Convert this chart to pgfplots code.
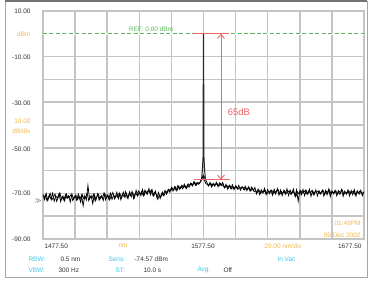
\documentclass[border=0pt]{standalone}
\usepackage{pgfplots}
\usepackage{pgfplotstable}
\pgfplotsset{compat=1.18}
\usepackage{fontspec}
\setmainfont{Liberation Sans}
\usetikzlibrary{arrows.meta}
\definecolor{org}{HTML}{F2B84B}
\definecolor{cyn}{HTML}{3CC8F0}
\definecolor{rd}{HTML}{F06464}
\definecolor{refgreen}{HTML}{5DB85D}
\definecolor{txt}{HTML}{333333}
\definecolor{grd}{HTML}{C4C4C4}
\pgfplotstableread{
y
-70.5
-72.8
-70.2
-73.1
-71.0
-72.5
-69.9
-73.4
-71.2
-72.0
-70.1
-73.6
-71.4
-72.9
-70.6
-72.2
-71.0
-73.8
-70.3
-72.4
-71.1
-73.0
-70.4
-72.6
-70.8
-75.5
-71.0
-72.9
-66.5
-72.3
-70.9
-74.5
-70.5
-72.7
-70.2
-73.0
-71.3
-72.1
-69.8
-72.8
-70.6
-72.4
-69.9
-72.6
-70.7
-71.9
-69.5
-72.3
-70.2
-72.0
-69.4
-71.8
-70.0
-72.2
-69.3
-71.5
-69.8
-71.9
-68.6
-71.2
-69.5
-71.0
-68.3
-70.8
-68.9
-70.4
-67.9
-70.6
-68.5
-71.2
-69.0
-71.8
-69.6
-72.2
-69.9
-71.0
-68.7
-70.3
-68.2
-69.5
-67.4
-69.0
-67.1
-68.8
-66.6
-68.2
-66.9
-68.0
-65.9
-67.6
-66.2
-67.3
-65.5
-66.8
-64.9
-66.5
-65.2
-66.0
-64.8
-63.5
-62.0
-63.5
-65.0
-66.8
-65.3
-67.2
-65.6
-66.9
-65.1
-67.0
-65.4
-66.6
-65.2
-67.6
-66.0
-68.1
-66.4
-67.9
-66.2
-68.4
-66.7
-68.0
-66.5
-68.6
-67.0
-68.3
-66.9
-68.8
-67.1
-69.0
-67.2
-68.7
-67.4
-70.2
-68.1
-70.5
-68.4
-69.9
-67.8
-70.6
-68.3
-70.1
-68.6
-70.8
-68.2
-70.3
-67.9
-70.7
-68.5
-71.0
-68.7
-70.4
-68.0
-70.9
-68.6
-70.2
-68.1
-71.2
-68.4
-73.5
-68.9
-70.6
-68.3
-71.0
-68.7
-70.4
-68.2
-71.3
-68.8
-70.5
-68.4
-71.1
-68.9
-70.3
-68.5
-71.2
-68.7
-70.6
-68.1
-71.4
-68.9
-70.2
-68.6
-71.0
-68.8
-70.5
-68.3
-71.3
-69.0
-70.4
-68.5
-71.1
-68.7
-70.6
-68.4
-71.2
-68.9
-70.3
-68.6
-71.0
-69.2
}\noisetable
\pgfplotstableread{
y
-72.1
-70.6
-73.2
-71.4
-70.0
-72.9
-71.7
-70.3
-73.5
-71.8
-69.8
-72.6
-71.2
-73.3
-70.2
-72.0
-71.6
-70.5
-73.1
-71.9
-70.7
-72.7
-71.3
-73.9
-70.6
-72.4
-71.8
-69.9
-73.2
-71.5
-72.2
-70.4
-73.4
-71.6
-70.3
-72.5
-71.0
-73.1
-70.1
-72.0
-70.8
-72.9
-71.1
-69.6
-72.4
-70.9
-71.7
-69.8
-72.8
-70.5
-71.3
-69.2
-72.1
-70.4
-71.0
-69.1
-72.3
-70.0
-70.7
-68.9
-70.3
-69.2
-71.1
-68.6
-70.1
-68.8
-69.7
-68.4
-70.9
-69.5
-70.4
-72.6
-70.7
-71.5
-69.4
-70.8
-69.1
-69.6
-68.3
-68.9
-67.6
-68.5
-67.2
-68.7
-66.8
-67.9
-66.4
-67.5
-66.7
-67.9
-65.8
-66.5
-65.6
-66.2
-65.0
-66.4
-65.3
-65.7
-64.5
-62.5
-64.0
-65.8
-66.0
-66.4
-65.5
-66.7
-65.8
-66.3
-65.7
-66.9
-65.6
-66.2
-66.8
-67.4
-66.5
-67.7
-66.6
-68.0
-67.1
-67.6
-66.9
-68.2
-67.3
-67.8
-67.2
-68.5
-67.6
-68.1
-67.5
-68.9
-67.8
-69.2
-68.8
-69.6
-68.5
-70.0
-69.1
-69.4
-68.7
-70.3
-69.0
-69.5
-68.6
-70.1
-69.3
-69.0
-68.4
-70.4
-69.2
-69.7
-68.8
-70.0
-69.4
-68.9
-70.5
-69.1
-69.8
-71.5
-69.3
-70.2
-68.7
-69.9
-69.5
-68.6
-70.3
-69.0
-69.7
-68.8
-70.6
-69.2
-69.5
-68.9
-70.1
-69.4
-68.7
-70.5
-69.0
-69.6
-68.5
-70.2
-69.3
-69.8
-68.9
-70.4
-69.1
-69.7
-68.6
-70.3
-69.4
-69.9
-68.8
-70.1
-69.5
-69.0
-70.6
-69.2
-69.8
-68.9
-70.2
-69.6
}\noisetableB
\begin{document}
\begin{tikzpicture}[x=1bp,y=1bp,font=\fontsize{6.5}{7}\selectfont]
\fill[white] (0,0) rectangle (371,281);
\draw[gray!70, line width=0.8bp] (5.5,4) rectangle (367,280);
\draw[gray!90!black, line width=1.6bp] (5.5,280) -- (367,280);
\begin{axis}[
  at={(43bp,42bp)}, anchor=south west,
  width=321bp, height=228bp, scale only axis,
  xmin=1477.5, xmax=1677.5, ymin=-90, ymax=10,
  xtick={1477.5,1497.5,...,1677.5}, ytick={-90,-80,...,-10,10},
  xticklabels={}, yticklabels={},
  major tick length=0pt,
  xmajorgrids=true, ymajorgrids=true,
  major grid style={draw=grd, line width=1.5bp},
  axis line style={draw=grd, line width=1.5bp},
  clip=false,
]
\draw[white, line width=1.6bp] (axis cs:1477.5,0) -- (axis cs:1677.5,0);
\pgfplotsinvokeforeach{0,...,49}{
  \draw[draw=refgreen, line width=1.4bp] (axis cs:{1477.5+#1*4.04},0) -- (axis cs:{1477.5+#1*4.04+2.5},0);
}
\addplot[black, line width=0.75bp, mark=none] table[x expr=1477.5+\coordindex, y index=0] {\noisetable};
\addplot[black, line width=0.75bp, mark=none] table[x expr=1478+\coordindex, y index=0] {\noisetableB};
\addplot[black!85, line width=1bp, mark=none] coordinates {
(1576.3,-63.5) (1576.8,-60) (1577.2,-54) (1577.4,-10) (1577.5,0) (1577.6,-10) (1577.8,-54) (1578.2,-60) (1578.7,-63.5)};
\draw[rd, line width=0.9bp] (axis cs:1571.6,0) -- (axis cs:1593.4,0);
\draw[rd, line width=0.9bp] (axis cs:1571.6,-64) -- (axis cs:1594,-64);
\draw[rd, line width=0.9bp, {Straight Barb[length=4bp,width=7bp]}-{Straight Barb[length=4bp,width=7bp]}] (axis cs:1588.4,0) -- (axis cs:1588.4,-64);
\end{axis}
\begin{scope}[txt]
\node[anchor=east] at (34,270) {10.00};
\node[anchor=east] at (34,224) {-10.00};
\node[anchor=east] at (34,178) {-30.00};
\node[anchor=east] at (34,132) {-50.00};
\node[anchor=east] at (34,88) {-70.00};
\node[anchor=east] at (34,42) {-90.00};
\node at (38,80) {$\gg$};
\node[anchor=west] at (41,35) {1477.50};
\node at (203,35) {1577.50};
\node[anchor=east] at (365,35) {1677.50};
\node[anchor=west] at (57,22) {0.5 nm};
\node[anchor=west] at (131,22) {-74.57 dBm};
\node[anchor=west] at (55,11) {300 Hz};
\node[anchor=west] at (140,11) {10.0 s};
\node[anchor=west] at (220,11) {Off};
\end{scope}
\begin{scope}[org]
\node[anchor=east] at (34,247) {dBm};
\node[anchor=east] at (34,160) {10.00};
\node[anchor=east] at (34,150) {dB/div};
\node at (123,35) {nm};
\node at (283,35) {20.00 nm/div};
\node[anchor=east] at (364,58) {01:49PM};
\node[anchor=east] at (364,46) {09 Dec 2002};
\end{scope}
\begin{scope}[cyn]
\node[anchor=west] at (25,22) {RBW:};
\node[anchor=west] at (25,11) {VBW:};
\node[anchor=west] at (105,22) {Sens:};
\node[anchor=west] at (112,11) {ST:};
\node[anchor=west] at (194,11) {Avg:};
\node[anchor=west] at (274,22) {In Vac};
\end{scope}
\node[refgreen] at (151,252) {REF: 0.00 dBm};
\node[rd, font=\fontsize{9.5}{10}\selectfont] at (239,169) {65dB};
\end{tikzpicture}
\end{document}
